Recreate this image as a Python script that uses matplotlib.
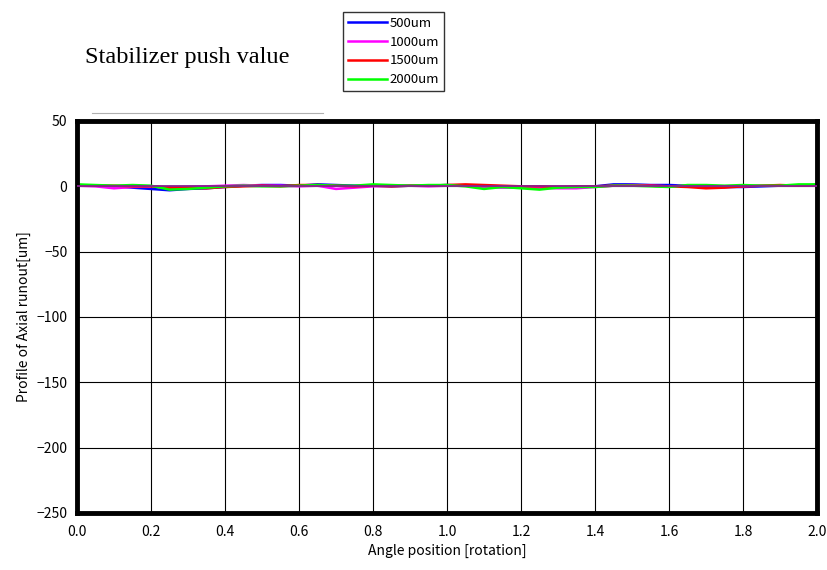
import numpy as np
import matplotlib
matplotlib.use("Agg")
import matplotlib.pyplot as plt
from matplotlib.lines import Line2D

x = [round(i * 0.05, 2) for i in range(41)]
labels = ["500um", "1000um", "1500um", "2000um"]
colors = ["#0000ff", "#ff00ff", "#ff0000", "#00ff00"]

s500 = [0.5, 0.5, 0, -1, -2, -3, -2, -1.5, -0.5, 0.5, 1, 1, 0.5, 1.5, 1, 0.5, 0.5, 0, 0.5, 0.5,
        1, 0.5, 0, -0.5, -1, -1, -0.5, -1, 0, 1.5, 1.5, 1, 1, 0.5, 0, -0.5, -0.5, 0, 0.5, 0.5, 1]
s1000 = [0.5, 0, -1.5, -0.5, 0, -1, -0.5, 0, 0.5, 1, 0.5, 0.5, 0, 0.5, -2, -1, 0, 0.5, 0.5, 0,
         0.5, 0.5, -0.5, -1, -0.5, -1, -1.5, -1.5, -0.5, 0.5, 1, 0.5, 0, 0.5, 0, -0.5, 0, 0.5, 0.5, 0.5, 0.5]
s1500 = [1, 0.5, 0.5, 0, 0, -1, -1, -1.5, -0.5, 0, 0.5, 0, 1, 1, 0.5, 0, 0.5, 0, 0.5, 0.5,
         1, 1.5, 1, 0.5, 0, 0, -0.5, 0, 0, 0.5, 0.5, 0.5, 0, -0.5, -1.5, -1, 0, 0.5, 1, 0.5, 1]
s2000 = [1.5, 1, 0.5, 1, 0.5, -2.5, -2, -1, 0, 0.5, 0, 0, 0.5, 1, 0.5, 0.5, 1.5, 1, 0.5, 1,
         1, 0, -2, -0.5, -1.5, -2.5, -1, -0.5, -0.5, 0.5, 0.5, 0, -0.5, 1, 1, 0.5, 1, 0.5, 0.5, 1.5, 1.5]
series = [s500, s1000, s1500, s2000]

xticks = [round(i * 0.2, 1) for i in range(11)]
yticks = [50, 0, -50, -100, -150, -200, -250]

fig = plt.figure(figsize=(8.27, 5.70), dpi=100)
ax = fig.add_axes([77/827, 1 - 513/570, 740/827, 392/570])

for s, c in zip(series, colors):
    ax.plot(x, s, color=c, lw=1.8)
ax.axhline(0, color="#8a2090", lw=1.3, zorder=3)

ax.set_xlim(0, 2.0)
ax.set_ylim(-250, 50)
ax.set_xticks(xticks)
ax.set_xticklabels([f"{t:.1f}" for t in xticks])
ax.set_yticks(yticks)
ax.grid(True, color="black", lw=0.8)
ax.tick_params(axis="x", length=0, labelsize=10, pad=9)
ax.tick_params(axis="y", length=0, labelsize=10, pad=7)
for sp in ax.spines.values():
    sp.set_linewidth(3.5)
    sp.set_color("black")

font = ["Noto Sans CJK JP", "DejaVu Sans"]
ax.set_xlabel("Angle position [rotation]", fontsize=10, family=font, labelpad=3)
ax.set_ylabel("Profile of Axial runout[um]", fontsize=10, family=font, labelpad=4)
for lab in ax.get_xticklabels() + ax.get_yticklabels():
    lab.set_family(font)

fig.text(85/827, 1 - 58/570, "Stabilizer push value", family="Liberation Serif",
         fontsize=17.5, va="center", ha="left")
fig.add_artist(Line2D([92/827, 323/827], [1 - 113/570, 1 - 113/570], color="#b0b0b0", lw=0.8))

handles = [Line2D([], [], color=c, lw=1.8) for c in colors]
leg = fig.legend(handles, labels, loc="upper left", bbox_to_anchor=(343/827, 1 - 12/570),
                 frameon=True, fancybox=False, edgecolor="black",
                 handlelength=3.0, handletextpad=0.2, labelspacing=0.45, borderpad=0.35,
                 borderaxespad=0, prop={"family": font, "size": 9.5})
leg.get_frame().set_linewidth(1.0)

fig.savefig("out.png", dpi=100)
